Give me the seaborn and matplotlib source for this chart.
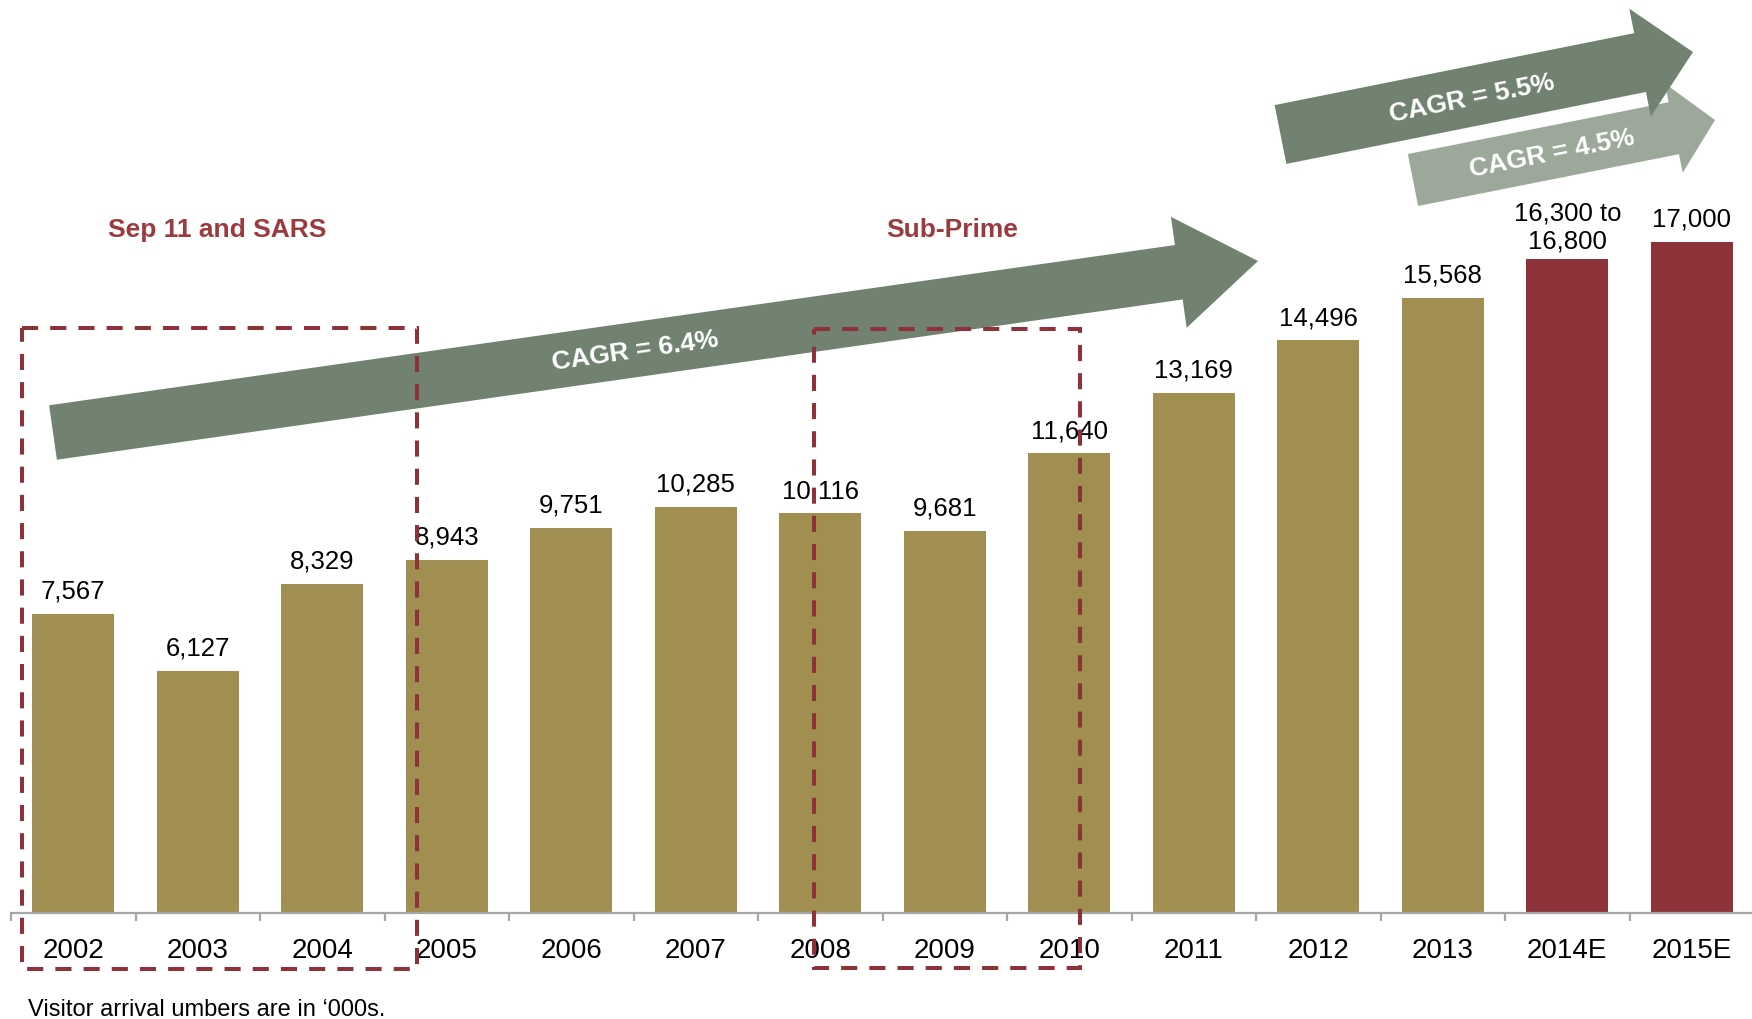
import numpy as np
import pandas as pd
import matplotlib
matplotlib.use("Agg")
import matplotlib.pyplot as plt
import matplotlib.patches as mpatches
from matplotlib.transforms import Affine2D
import seaborn as sns

# ---- data (visitor arrivals, '000s) ----
years = ["2002", "2003", "2004", "2005", "2006", "2007", "2008",
         "2009", "2010", "2011", "2012", "2013", "2014E", "2015E"]
actual_arrivals = [7567, 6127, 8329, 8943, 9751, 10285, 10116,
                   9681, 11640, 13169, 14496, 15568]
range_2014 = (16300, 16800)
estimate_2015 = 17000
kinds = ["Actual"] * 12 + ["Estimate"] * 2

arrivals = actual_arrivals + [sum(range_2014) / 2, estimate_2015]
value_labels = [f"{v:,}" for v in actual_arrivals] + [
    f"{range_2014[0]:,} to\n{range_2014[1]:,}", f"{estimate_2015:,}"]

cagr_labels = ["CAGR = 6.4%", "CAGR = 5.5%", "CAGR = 4.5%"]
event_labels = ["Sep 11 and SARS", "Sub-Prime"]
footnote = "Visitor arrival umbers are in \u2018000s."

# ---- style ----
OLIVE = "#A08F50"
RED = "#8D3238"
ARROW_DARK = "#718370"
ARROW_LIGHT = "#9CA899"
EVENT_RED = "#9B3A3F"
AXIS_GREY = "#A6A6A6"

sns.set_style("white")
plt.rcParams["font.family"] = ["Liberation Sans", "DejaVu Sans"]

W, H = 1752, 1020
fig = plt.figure(figsize=(W / 100, H / 100), dpi=100)
# pixel coordinates measured from the top-left corner of the canvas
px = Affine2D().scale(1 / W, -1 / H).translate(0, 1) + fig.transFigure

ax = fig.add_axes([11 / W, 106 / H, 14 * 124.5 / W, 914 / H])
df = pd.DataFrame({"year": years, "arrivals": arrivals, "kind": kinds})
sns.barplot(data=df, x="year", y="arrivals", hue="kind",
            palette={"Actual": OLIVE, "Estimate": RED},
            width=0.66, dodge=False, legend=False, saturation=1,
            linewidth=0, ax=ax)

ax.set_xlim(-0.5, len(years) - 0.5)
ax.set_ylim(0, 914 / 0.0395)
ax.set_xlabel("")
ax.set_ylabel("")
ax.set_yticks([])
for s in ("left", "top", "right"):
    ax.spines[s].set_visible(False)
ax.spines["bottom"].set_color(AXIS_GREY)
ax.spines["bottom"].set_linewidth(1.6)
ax.set_xticks(np.arange(-0.5, len(years), 1), minor=True)
ax.tick_params(axis="x", which="major", bottom=False, length=0, pad=17,
               labelsize=20, labelcolor="black")
ax.tick_params(axis="x", which="minor", bottom=True, length=6, width=1.6,
               color=AXIS_GREY, direction="out")

# value labels above the bars
for i, (v, lab) in enumerate(zip(arrivals, value_labels)):
    multi = "\n" in lab
    ax.annotate(lab, (i, v), xytext=(0, 5 if multi else 8),
                textcoords="offset points", ha="center", va="bottom",
                fontsize=18.5, linespacing=1.2, color="black")


def growth_arrow(tail, tip, shaft, head_w, head_l, color):
    arrow = mpatches.FancyArrow(
        tail[0], tail[1], tip[0] - tail[0], tip[1] - tail[1],
        width=shaft, head_width=head_w, head_length=head_l,
        length_includes_head=True, facecolor=color, edgecolor="none",
        transform=px, zorder=1)
    fig.add_artist(arrow)
    return np.degrees(np.arctan2(tail[1] - tip[1], tip[0] - tail[0]))


ang_main = growth_arrow((53, 433.5), (1258, 262), 55, 112, 80, ARROW_DARK)
ang_low = growth_arrow((1413, 181), (1715, 121), 53, 91, 42, ARROW_LIGHT)
ang_high = growth_arrow((1280.5, 135.5), (1693, 53), 60, 110, 54, ARROW_DARK)

for (x, y), lab, ang in zip([(635, 351), (1472, 99), (1552, 154)],
                            cagr_labels, [ang_main, ang_high, ang_low]):
    fig.text(x, y, lab, transform=px, rotation=ang, rotation_mode="anchor",
             ha="center", va="center", fontsize=19, fontweight="bold",
             color="white", zorder=2)

# event labels and dashed highlight boxes
for (x, y), lab in zip([(217, 230), (952, 230)], event_labels):
    fig.text(x, y, lab, transform=px, ha="center", va="center",
             fontsize=19, fontweight="bold", color=EVENT_RED)

for (x0, y0, x1, y1) in [(22, 329, 417, 970), (814, 330, 1080, 969)]:
    box = mpatches.Rectangle((x0, y0), x1 - x0, y1 - y0, fill=False,
                             edgecolor=RED, linewidth=2.9,
                             linestyle=(0, (4, 3)), transform=px, zorder=5)
    fig.add_artist(box)

fig.text(28, 1016, footnote, transform=px, ha="left", va="baseline",
         fontsize=17, color="black")

fig.savefig("out.png", dpi=100)
